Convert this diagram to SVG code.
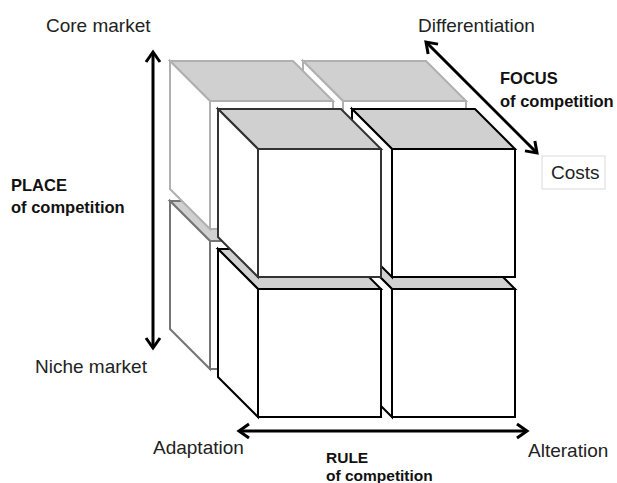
<svg xmlns="http://www.w3.org/2000/svg" width="617" height="483" viewBox="0 0 617 483">
  <defs>
    <style>
      .face { fill: #ffffff; }
      .top { fill: #d0d0d0; }
      .back-light polygon, .back-light rect { stroke: #b0b0b0; stroke-width: 2; }
      .back-mid polygon, .back-mid rect { stroke: #757575; stroke-width: 2; }
      .front polygon, .front rect { stroke: #000000; stroke-width: 2; }
      .front-dark polygon, .front-dark rect { stroke: #333333; stroke-width: 2; }
      .axis { stroke: #000000; stroke-width: 3; fill: none; }
      .lbl { font-family: "Liberation Sans", Arial, sans-serif; font-size: 19px; fill: #222222; }
      .bold { font-family: "Liberation Sans", Arial, sans-serif; font-size: 16.5px; font-weight: bold; fill: #111111; }
      .bold-sm { font-family: "Liberation Sans", Arial, sans-serif; font-size: 15.5px; font-weight: bold; fill: #111111; }
    </style>
    <marker id="chev" viewBox="0 0 20 20" refX="16" refY="10" markerWidth="20" markerHeight="20" markerUnits="userSpaceOnUse" orient="auto-start-reverse">
      <path d="M6,3 L16,10 L6,17" fill="none" stroke="#000000" stroke-width="3"/>
    </marker>
  </defs>
  <rect x="0" y="0" width="617" height="483" fill="#ffffff"/>

  <!-- back bottom-left cube -->
  <g id="cube-back-bottom-left" class="back-mid">
    <polygon class="top" points="170,201 293,201 333,241 210,241"/>
    <polygon class="face" points="170,201 210,241 210,369 170,329"/>
    <rect class="face" x="210" y="241" width="123" height="128"/>
  </g>
  <!-- back top-right cube -->
  <g id="cube-back-top-right" class="back-light">
    <polygon class="top" points="303,61 426,61 466,101 343,101"/>
    <polygon class="face" points="303,61 343,101 343,229 303,189"/>
    <rect class="face" x="343" y="101" width="123" height="128"/>
  </g>
  <!-- back top-left cube -->
  <g id="cube-back-top-left" class="back-light">
    <polygon class="top" points="170,61 293,61 333,101 210,101"/>
    <polygon class="face" points="170,61 210,101 210,229 170,189"/>
    <rect class="face" x="210" y="101" width="123" height="128"/>
  </g>
  <!-- front bottom-right cube -->
  <g id="cube-front-bottom-right" class="front">
    <polygon class="top" points="352,249 475,249 515,289 392,289"/>
    <polygon class="face" points="352,249 392,289 392,417 352,377"/>
    <rect class="face" x="392" y="289" width="123" height="128"/>
  </g>
  <!-- front bottom-left cube -->
  <g id="cube-front-bottom-left" class="front">
    <polygon class="top" points="218,249 341,249 381,289 258,289"/>
    <polygon class="face" points="218,249 258,289 258,417 218,377"/>
    <rect class="face" x="258" y="289" width="123" height="128"/>
  </g>
  <!-- front top-right cube -->
  <g id="cube-front-top-right" class="front">
    <polygon class="top" points="352,109 475,109 515,149 392,149"/>
    <polygon class="face" points="352,109 392,149 392,277 352,237"/>
    <rect class="face" x="392" y="149" width="123" height="128"/>
  </g>
  <!-- front top-left cube -->
  <g id="cube-front-top-left" class="front-dark">
    <polygon class="top" points="218,109 341,109 381,149 258,149"/>
    <polygon class="face" points="218,109 258,149 258,277 218,237"/>
    <rect class="face" x="258" y="149" width="123" height="128"/>
  </g>

  <!-- axes -->
  <g id="connectors">
    <line class="axis" x1="153" y1="52" x2="153" y2="348" marker-start="url(#chev)" marker-end="url(#chev)"/>
    <line class="axis" x1="239" y1="431" x2="527" y2="431" marker-start="url(#chev)" marker-end="url(#chev)"/>
    <line class="axis" x1="426" y1="42" x2="537" y2="153" marker-start="url(#chev)" marker-end="url(#chev)"/>
  </g>

  <!-- labels -->
  <g id="labels">
    <text class="lbl" x="46" y="32">Core market</text>
    <text class="lbl" x="35" y="373">Niche market</text>
    <text class="bold" x="11" y="191">PLACE</text>
    <text class="bold" x="11" y="213">of competition</text>
    <text class="lbl" x="418" y="32">Differentiation</text>
    <text class="bold" x="500" y="84">FOCUS</text>
    <text class="bold" x="500" y="107">of competition</text>
    <g id="costs">
      <rect x="542" y="156" width="63" height="33" fill="#ffffff" stroke="#d9d9d9" stroke-width="1"/>
      <text class="lbl" x="551" y="179">Costs</text>
    </g>
    <text class="lbl" x="153" y="454">Adaptation</text>
    <text class="lbl" x="528" y="457">Alteration</text>
    <text class="bold-sm" x="326" y="463">RULE</text>
    <text class="bold-sm" x="326" y="481">of competition</text>
  </g>
</svg>
